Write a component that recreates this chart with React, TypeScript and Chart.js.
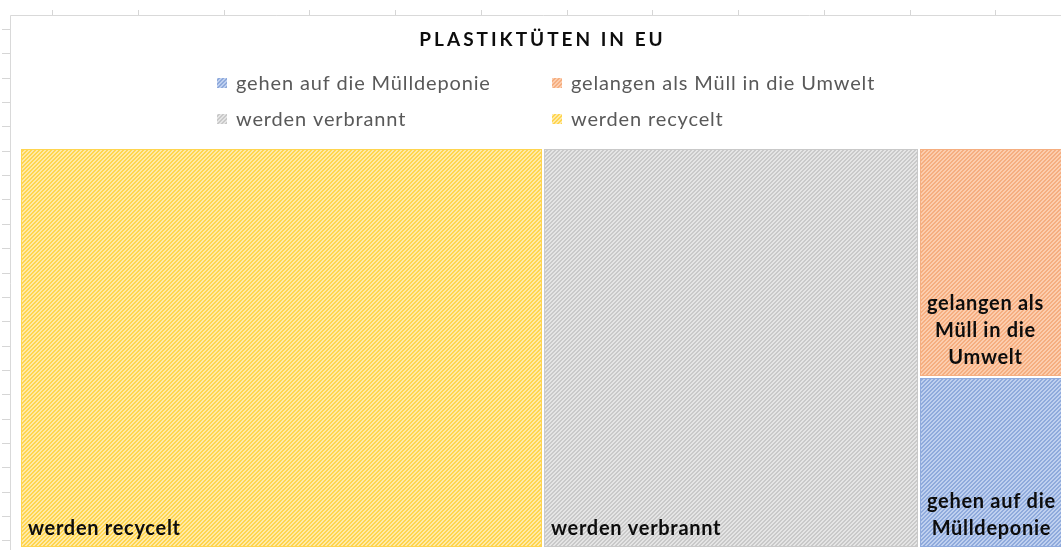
import React, { useEffect, useRef } from "react";
import { Chart, registerables } from "chart.js";

Chart.register(...registerables);

const TITLE = "PLASTIKTÜTEN IN EU";
const categories = [
  "gehen auf die Mülldeponie",
  "gelangen als Müll in die Umwelt",
  "werden verbrannt",
  "werden recycelt",
];
const values = [6, 8, 36, 50];
const stripeColors = ["#8FAADC", "#F5AE80", "#C9C9C9", "#FFD54F"];
const baseColors = ["#BFD0EF", "#FCCDAE", "#E5E5E5", "#FFEAA8"];

const FONT = "Lato, 'Open Sans', sans-serif";

function makePattern(ctx: CanvasRenderingContext2D, fg: string, bg: string) {
  const c = document.createElement("canvas");
  c.width = 4;
  c.height = 4;
  const p = c.getContext("2d")!;
  p.fillStyle = bg;
  p.fillRect(0, 0, 4, 4);
  p.fillStyle = fg;
  for (let yy = 0; yy < 4; yy++) {
    for (let xx = 0; xx < 4; xx++) {
      if ((xx + yy) % 4 < 2) p.fillRect(xx, yy, 1, 1);
    }
  }
  return ctx.createPattern(c, "repeat")!;
}

type R = { x: number; y: number; w: number; h: number; i: number };

function worst(row: number[], side: number) {
  const s = row.reduce((a, b) => a + b, 0);
  const mx = Math.max(...row);
  const mn = Math.min(...row);
  return Math.max((side * side * mx) / (s * s), (s * s) / (side * side * mn));
}

function squarify(areas: { a: number; i: number }[], W: number, H: number): R[] {
  const out: R[] = [];
  let x = 0, y = 0, w = W, h = H;
  let rest = areas.slice();
  while (rest.length) {
    const side = Math.min(w, h);
    const row: { a: number; i: number }[] = [rest[0]];
    let k = 1;
    while (k < rest.length) {
      const cur = worst(row.map((r) => r.a), side);
      const nxt = worst([...row, rest[k]].map((r) => r.a), side);
      if (nxt <= cur) {
        row.push(rest[k]);
        k++;
      } else break;
    }
    rest = rest.slice(k);
    const sum = row.reduce((a, r) => a + r.a, 0);
    if (w >= h) {
      const cw = sum / h;
      let yy = y;
      row.forEach((r) => {
        const rh = r.a / cw;
        out.push({ x, y: yy, w: cw, h: rh, i: r.i });
        yy += rh;
      });
      x += cw;
      w -= cw;
    } else {
      const rh = sum / w;
      let xx = x;
      row.forEach((r) => {
        const rw = r.a / rh;
        out.push({ x: xx, y, w: rw, h: rh, i: r.i });
        xx += rw;
      });
      y += rh;
      h -= rh;
    }
  }
  return out;
}

function wrap(ctx: CanvasRenderingContext2D, text: string, maxW: number) {
  const words = text.split(" ");
  const lines: string[] = [];
  let cur = "";
  words.forEach((wd) => {
    const t = cur ? cur + " " + wd : wd;
    if (ctx.measureText(t).width <= maxW || !cur) cur = t;
    else {
      lines.push(cur);
      cur = wd;
    }
  });
  if (cur) lines.push(cur);
  return lines;
}

const FRAME_RIGHT_OFFSET = 3;

const backgroundPlugin = {
  id: "sheetBg",
  beforeDraw(chart: any) {
    const ctx = chart.ctx as CanvasRenderingContext2D;
    const W = chart.width, H = chart.height;
    ctx.save();
    ctx.fillStyle = "#FFFFFF";
    ctx.fillRect(0, 0, W, H);
    ctx.strokeStyle = "#D6D6D6";
    ctx.lineWidth = 1;
    for (let k = 0; 52 + 85.75 * k < W; k++) {
      const xx = Math.round(52 + 85.75 * k) + 0.5;
      ctx.beginPath();
      ctx.moveTo(xx, 10);
      ctx.lineTo(xx, 15);
      ctx.stroke();
    }
    for (let k = 0; 29 + 24.35 * k < H; k++) {
      const yy = Math.round(29 + 24.35 * k) + 0.5;
      ctx.beginPath();
      ctx.moveTo(2, yy);
      ctx.lineTo(10, yy);
      ctx.stroke();
    }
    ctx.strokeStyle = "#D9D9D9";
    ctx.beginPath();
    ctx.moveTo(10.5, H + 10);
    ctx.lineTo(10.5, 15.5);
    ctx.lineTo(W + 10, 15.5);
    ctx.stroke();
    ctx.restore();
  },
};

const treemapPlugin = {
  id: "treemapCells",
  afterDatasetsDraw(chart: any) {
    const ctx = chart.ctx as CanvasRenderingContext2D;
    const { chartArea } = chart;
    const xs = chart.scales.x, ys = chart.scales.y;
    const aspect = (chartArea.right - chartArea.left) / (chartArea.bottom - chartArea.top);
    const total = values.reduce((a, b) => a + b, 0);
    const items = values
      .map((v, i) => ({ a: (v / total) * aspect, i }))
      .sort((p, q) => q.a - p.a);
    const rects = squarify(items, aspect, 1);
    ctx.save();
    rects.forEach((r) => {
      const x0 = xs.getPixelForValue(r.x / aspect);
      const x1 = xs.getPixelForValue((r.x + r.w) / aspect);
      const y0 = ys.getPixelForValue(r.y);
      const y1 = ys.getPixelForValue(r.y + r.h);
      const left = Math.round(x0) + 1, right = Math.round(x1) - 1;
      const top = Math.round(Math.min(y0, y1)) + 1, bottom = Math.round(Math.max(y0, y1)) - 1;
      ctx.fillStyle = makePattern(ctx, stripeColors[r.i], baseColors[r.i]);
      ctx.fillRect(left, top, right - left, bottom - top);
      ctx.strokeStyle = stripeColors[r.i];
      ctx.lineWidth = 1;
      ctx.strokeRect(left + 0.5, top + 0.5, right - left - 1, bottom - top - 1);

      ctx.font = `bold 20px ${FONT}`;
      (ctx as any).letterSpacing = "0.7px";
      ctx.fillStyle = "#0D0D0D";
      ctx.textBaseline = "middle";
      ctx.textAlign = "center";
      const pad = 7;
      const lines = wrap(ctx, categories[r.i], right - left - 2 * pad + 6);
      const blockW = Math.max(...lines.map((l) => ctx.measureText(l).width));
      const cx = left + pad + blockW / 2;
      const lh = 27;
      lines.forEach((l, j) => {
        const yy = bottom - 18 - (lines.length - 1 - j) * lh;
        ctx.fillText(l, cx, yy);
      });
    });
    ctx.restore();
  },
  afterDraw(chart: any) {
    const ctx = chart.ctx as CanvasRenderingContext2D;
    const center = (10 + chart.width - FRAME_RIGHT_OFFSET) / 2;
    ctx.save();
    // title
    ctx.font = `bold 19px ${FONT}`;
    (ctx as any).letterSpacing = "3px";
    ctx.fillStyle = "#0D0D0D";
    ctx.textAlign = "center";
    ctx.textBaseline = "middle";
    ctx.fillText(TITLE, center + 1.5, 40);
    // legend: two columns, two rows
    ctx.font = `20px ${FONT}`;
    (ctx as any).letterSpacing = "0.85px";
    ctx.textAlign = "left";
    const order = [0, 1, 2, 3];
    const colOf = (k: number) => k % 2;
    const rowY = [83, 119];
    const colW = [0, 0];
    order.forEach((ci, k) => {
      const w = 19 + ctx.measureText(categories[ci]).width;
      colW[colOf(k)] = Math.max(colW[colOf(k)], w);
    });
    const gap = 62;
    const totalW = colW[0] + gap + colW[1];
    const start = center - totalW / 2 + 5;
    const colX = [start, start + colW[0] + gap];
    order.forEach((ci, k) => {
      const cx = Math.round(colX[colOf(k)]);
      const cy = rowY[Math.floor(k / 2)];
      ctx.fillStyle = makePattern(ctx, stripeColors[ci], baseColors[ci]);
      ctx.fillRect(cx, cy - 5, 10, 10);
      ctx.fillStyle = "#595959";
      ctx.fillText(categories[ci], cx + 19, cy + 1);
    });
    ctx.restore();
  },
};

export default function App() {
  const ref = useRef<HTMLCanvasElement | null>(null);
  useEffect(() => {
    if (!ref.current) return;
    const chart = new Chart(ref.current, {
      type: "scatter",
      data: {
        datasets: categories.map((c, i) => ({
          label: c,
          data: [] as { x: number; y: number }[],
          backgroundColor: stripeColors[i],
          pointRadius: 0,
        })),
      },
      options: {
        animation: false,
        responsive: true,
        maintainAspectRatio: false,
        layout: { padding: { left: 20, right: 10, top: 148, bottom: 2 } },
        plugins: { legend: { display: false }, title: { display: false }, tooltip: { enabled: false } },
        scales: {
          x: { type: "linear", min: 0, max: 1, display: false },
          y: { type: "linear", min: 0, max: 1, reverse: true, display: false },
        },
      },
      plugins: [backgroundPlugin, treemapPlugin],
    });
    return () => chart.destroy();
  }, []);
  return (
    <div style={{ position: "fixed", left: 0, top: 0, width: 1061, height: 550, overflow: "hidden", background: "#fff" }}>
      <div style={{ position: "absolute", left: 0, top: 0, width: 1075, height: 550 }}>
        <canvas ref={ref} />
      </div>
    </div>
  );
}
